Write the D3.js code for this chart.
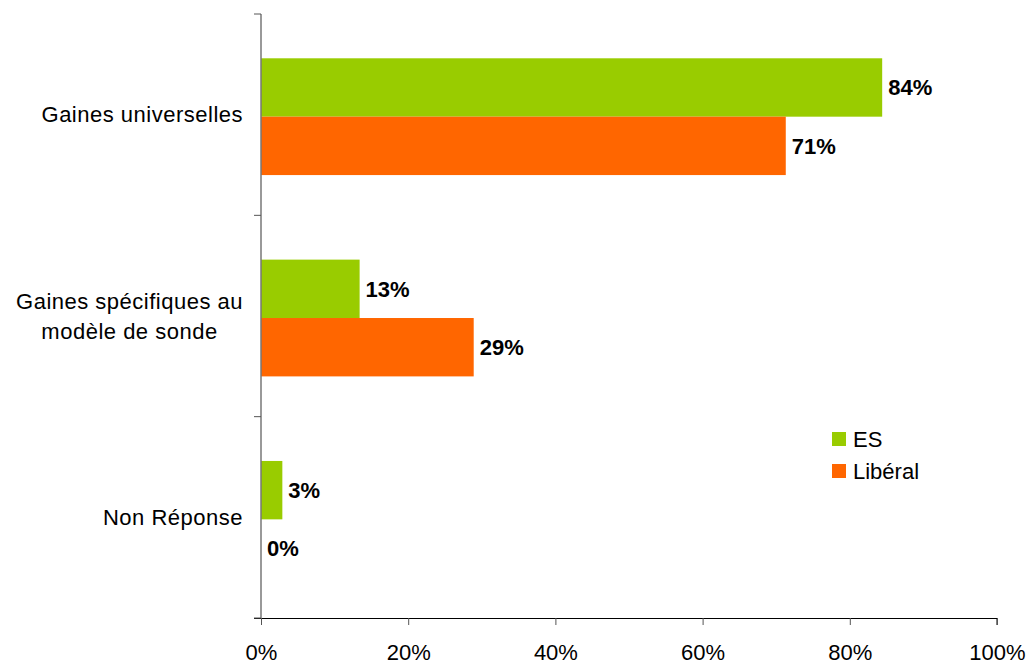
<!DOCTYPE html>
<html>
<head>
<meta charset="utf-8">
<script src="https://cdn.jsdelivr.net/npm/d3@7"></script>
<style>
  body { margin: 0; background: #fff; }
  text { font-family: Arial, "Liberation Sans", sans-serif; }
</style>
</head>
<body>
<div id="chart"></div>
<script>
// Data
var categories = ["Gaines universelles", "Gaines spécifiques au\nmodèle de sonde", "Non Réponse"];
var seriesNames = ["ES", "Libéral"];
var esValues = [84.4, 13.4, 2.9];
var liberalValues = [71.3, 28.9, 0];
var tickValues = [0, 20, 40, 60, 80, 100];

var colors = {"ES": "#99cc00", "Libéral": "#ff6600"};

var rows = categories.map((c, i) => ({cat: c, values: [
  {series: "ES", value: esValues[i]},
  {series: "Libéral", value: liberalValues[i]}
]}));

// Size
var w = 1029, h = 665;
var margin = {top: 14, left: 261, bottom: 47, right: 32};
var fs = 22;

var xScale = d3.scaleLinear()
  .domain([0, 100])
  .range([margin.left, w - margin.right]);

var yScale = d3.scaleBand()
  .domain(categories)
  .range([margin.top, h - margin.bottom]);

var bw = yScale.bandwidth();
var sub = d3.scaleBand()
  .domain(seriesNames)
  .range([bw * 0.22, bw * 0.80]);

var svg = d3.select("#chart")
  .append("svg")
    .attr("width", w)
    .attr("height", h);

// bars
var groups = svg.selectAll("g.cat")
  .data(rows)
  .enter()
  .append("g")
  .attr("class", "cat")
  .attr("transform", d => `translate(0,${yScale(d.cat)})`);

groups.selectAll("rect")
  .data(d => d.values)
  .enter()
  .append("rect")
  .attr("x", xScale(0))
  .attr("y", d => sub(d.series))
  .attr("width", d => xScale(d.value) - xScale(0))
  .attr("height", sub.bandwidth())
  .attr("fill", d => colors[d.series]);

var f = d3.format(".0f");
groups.selectAll("text.val")
  .data(d => d.values)
  .enter()
  .append("text")
  .attr("class", "val")
  .attr("x", d => xScale(d.value) + 6)
  .attr("y", d => sub(d.series) + sub.bandwidth() / 2)
  .attr("dy", "0.35em")
  .attr("font-size", fs)
  .attr("font-weight", "bold")
  .text(d => f(d.value) + "%");

// x axis
var xAxis = svg.append("g")
  .attr("transform", `translate(0,${h - margin.bottom})`)
  .call(d3.axisBottom(xScale).tickValues(tickValues).tickSize(7).tickFormat(d => d + "%"));
xAxis.select(".domain").attr("d", `M${margin.left - 7},0.5H${w - margin.right}V7`);
xAxis.selectAll("text").attr("font-size", fs).attr("fill", "#000").attr("y", 42).attr("dy", 0);
xAxis.selectAll("line").attr("stroke", "#555");

// y axis
var yAxis = svg.append("g")
  .attr("transform", `translate(${margin.left},0)`);
yAxis.append("line")
  .attr("x1", 0).attr("x2", 0)
  .attr("y1", margin.top).attr("y2", h - margin.bottom)
  .attr("stroke", "#777").attr("stroke-width", 1.5);
var yTicks = categories.map(c => yScale(c)).concat([h - margin.bottom]);
yAxis.selectAll("line.tick")
  .data(yTicks)
  .enter()
  .append("line")
  .attr("class", "tick")
  .attr("x1", -7).attr("x2", 0)
  .attr("y1", d => d).attr("y2", d => d)
  .attr("stroke", "#555");

// category labels
var labelRight = margin.left - 18;
categories.forEach(function(c) {
  var lines = c.split("\n");
  var t = svg.append("text")
    .attr("font-size", fs)
    .attr("letter-spacing", 0.5)
    .attr("fill", "#000")
    .attr("text-anchor", "middle");
  var cy = yScale(c) + bw / 2;
  lines.forEach(function(l, i) {
    t.append("tspan")
      .attr("y", cy + (i - (lines.length - 1) / 2) * 30)
      .attr("dy", "0.35em")
      .text(l);
  });
  var maxW = d3.max(t.selectAll("tspan").nodes(), n => n.getComputedTextLength());
  t.selectAll("tspan").attr("x", labelRight - maxW / 2);
});

// legend
var legend = svg.selectAll("g.legend")
  .data(seriesNames)
  .enter()
  .append("g")
  .attr("class", "legend")
  .attr("transform", (d, i) => `translate(832,${432 + i * 32})`);
legend.append("rect")
  .attr("width", 14).attr("height", 14)
  .attr("fill", d => colors[d]);
legend.append("text")
  .attr("x", 21).attr("y", 7).attr("dy", "0.35em")
  .attr("font-size", fs)
  .text(d => d);
</script>
</body>
</html>
